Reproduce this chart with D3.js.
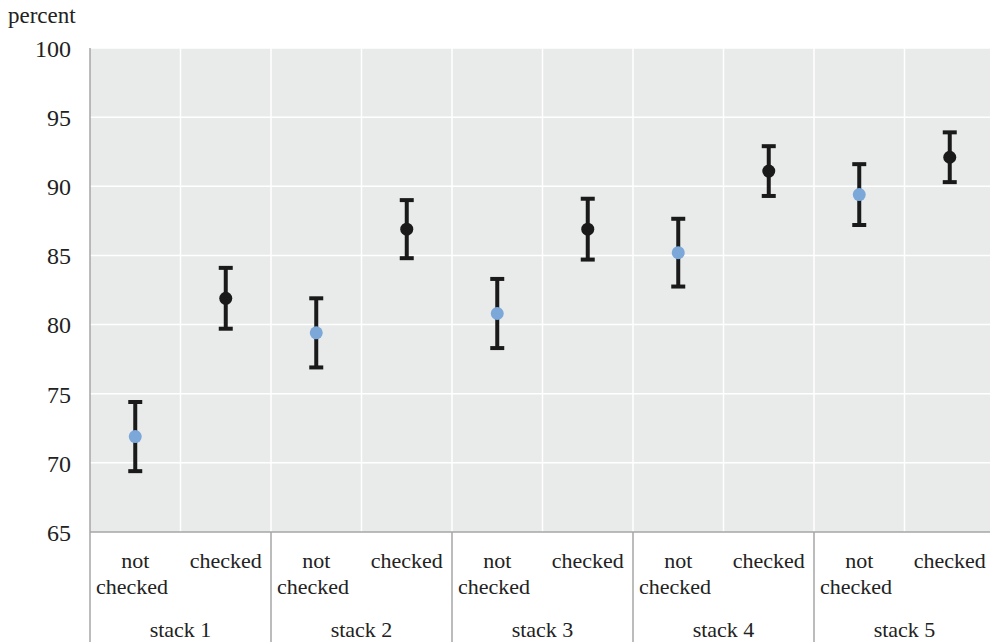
<!DOCTYPE html>
<html><head><meta charset="utf-8">
<script src="https://cdn.jsdelivr.net/npm/d3@7"></script>
<style>body{margin:0;background:#fff}svg{display:block}svg text{font-family:"Liberation Serif","Tinos","Times New Roman","DejaVu Serif",serif;fill:#222}</style>
</head><body><svg id="c" width="990" height="642"></svg>
<script>
const stacks = ["stack 1","stack 2","stack 3","stack 4","stack 5"];
const groups = ["not checked","checked"];
const notChecked = [71.9, 79.4, 80.8, 85.2, 89.4];
const notCheckedErr = [2.5, 2.5, 2.5, 2.45, 2.2];
const checked = [81.9, 86.9, 86.9, 91.1, 92.1];
const checkedErr = [2.2, 2.1, 2.2, 1.8, 1.8];
const yTicks = [65,70,75,80,85,90,95,100];

const data = [];
stacks.forEach((s,i)=>{
  data.push({key:s+"|nc", stack:s, group:"not checked", v:notChecked[i], e:notCheckedErr[i]});
  data.push({key:s+"|c", stack:s, group:"checked", v:checked[i], e:checkedErr[i]});
});

const FONT = '"Liberation Serif","Tinos","Times New Roman","DejaVu Serif",serif';
const svg = d3.select("#c").attr("font-family",FONT);
const L=90, R=995, T=48, B=532;
const x = d3.scaleBand().domain(data.map(d=>d.key)).range([L,R]).padding(0);
const xs = d3.scaleBand().domain(stacks).range([L,R]).padding(0);
const y = d3.scaleLinear().domain([65,100]).range([B,T]);

svg.append("rect").attr("x",L).attr("y",T).attr("width",R-L).attr("height",B-T).attr("fill","#e9ebeb");
svg.append("g").selectAll("line").data(yTicks.slice(1)).join("line")
  .attr("x1",L).attr("x2",R).attr("y1",d=>y(d)).attr("y2",d=>y(d))
  .attr("stroke","#fff").attr("stroke-width",1.5);
svg.append("g").selectAll("line").data(data.slice(1)).join("line")
  .attr("x1",d=>x(d.key)).attr("x2",d=>x(d.key)).attr("y1",T).attr("y2",B)
  .attr("stroke","#fff").attr("stroke-width",1.5);

const ya = svg.append("g").attr("transform",`translate(${L},0)`)
  .call(d3.axisLeft(y).tickValues(yTicks).tickSize(0).tickPadding(19));
ya.attr("font-family",FONT).attr("font-size",24);
ya.select(".domain").remove();
ya.selectAll("text").attr("fill","#222").attr("dy","0.35em");
svg.append("line").attr("x1",L).attr("x2",L).attr("y1",T).attr("y2",642).attr("stroke","#a6a6a6").attr("stroke-width",1.5);
svg.append("line").attr("x1",L).attr("x2",R).attr("y1",B).attr("y2",B).attr("stroke","#a6a6a6").attr("stroke-width",1.5);
svg.append("g").selectAll("line").data(stacks.slice(1)).join("line")
  .attr("x1",d=>xs(d)).attr("x2",d=>xs(d)).attr("y1",B).attr("y2",642)
  .attr("stroke","#a6a6a6").attr("stroke-width",1.5);

svg.append("text").attr("x",8).attr("y",23).attr("font-size",23).text("percent");

const lab = svg.append("g").attr("font-size",22);
data.forEach(d=>{
  const cx = x(d.key)+x.bandwidth()/2;
  if(d.group==="not checked"){
    lab.append("text").attr("x",cx).attr("y",568).attr("text-anchor","middle").text("not");
    lab.append("text").attr("x",x(d.key)+6).attr("y",594).text("checked");
  } else {
    lab.append("text").attr("x",cx).attr("y",568).attr("text-anchor","middle").text("checked");
  }
});
lab.selectAll(null).data(stacks).join("text")
  .attr("x",d=>xs(d)+xs.bandwidth()/2).attr("y",637).attr("text-anchor","middle").text(d=>d);

const eb = svg.append("g").selectAll("g").data(data).join("g")
  .attr("transform",d=>`translate(${x(d.key)+x.bandwidth()/2},0)`);
eb.append("line").attr("y1",d=>y(d.v+d.e)).attr("y2",d=>y(d.v-d.e)).attr("stroke","#1a1a1a").attr("stroke-width",4);
eb.append("line").attr("x1",-7).attr("x2",7).attr("y1",d=>y(d.v+d.e)).attr("y2",d=>y(d.v+d.e)).attr("stroke","#1a1a1a").attr("stroke-width",4);
eb.append("line").attr("x1",-7).attr("x2",7).attr("y1",d=>y(d.v-d.e)).attr("y2",d=>y(d.v-d.e)).attr("stroke","#1a1a1a").attr("stroke-width",4);
eb.append("circle").attr("cy",d=>y(d.v)).attr("r",6.5)
  .attr("fill",d=>d.group==="checked"?"#1a1a1a":"#7ba7d9");
</script></body></html>
